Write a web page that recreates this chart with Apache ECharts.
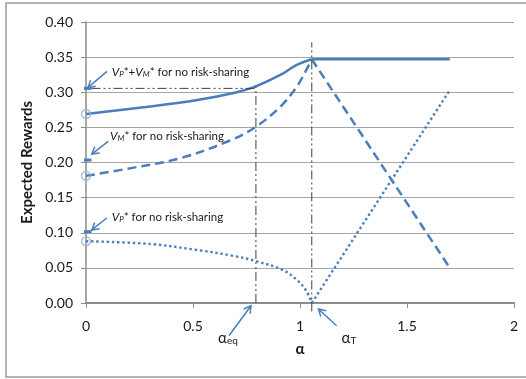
<!DOCTYPE html>
<html>
<head>
<meta charset="utf-8">
<script src="https://cdn.jsdelivr.net/npm/echarts@6/dist/echarts.min.js"></script>
<style>
  html, body { margin: 0; padding: 0; background: #ffffff; }
  #chart { width: 526px; height: 379px; }
</style>
</head>
<body>
<div id="chart"></div>
<script>
// Expected rewards against the sharing parameter α.
// Curved part of each series runs from α = 0 up to the threshold α_T.
const totalAlpha = [0, 0.28, 0.52, 0.69, 0.79, 0.91, 0.985, 1.055];
const totalValue = [0.269, 0.279, 0.289, 0.299, 0.308, 0.325, 0.339, 0.347];

const mgrAlpha = [0, 0.21, 0.44, 0.67, 0.79, 0.91, 0.985, 1.03, 1.055];
const mgrValue = [0.181, 0.192, 0.206, 0.231, 0.250, 0.280, 0.308, 0.332, 0.347];

const prnAlpha = [0, 0.30, 0.53, 0.69, 0.79, 0.92, 0.985, 1.03, 1.055];
const prnValue = [0.088, 0.084, 0.075, 0.067, 0.060, 0.047, 0.033, 0.017, 0.0];

// Straight part beyond α_T
const tailAlpha = [1.055, 1.70];
const totalTail = [0.347, 0.347];
const mgrTail = [0.347, 0.05];
const prnTail = [0.0, 0.303];

// Reference levels without risk-sharing and the two marked α values
const noShareTotal = 0.3055;
const noShareMgr = 0.2035;
const noShareP = 0.1015;
const alphaEq = 0.794;
const alphaT = 1.055;
const totalAtEq = 0.308;

const yTicks = [0, 0.05, 0.10, 0.15, 0.20, 0.25, 0.30, 0.35, 0.40];
const xTicks = [0, 0.5, 1, 1.5, 2];

const BLUE = '#4a7ebb';
const LIGHT = '#95b3d7';
const GUIDE = '#3f3f3f';
const FONT = 'Lato, "Liberation Sans", sans-serif';

const pairs = (xs, ys) => xs.map((x, i) => [x, ys[i]]);

const chart = echarts.init(document.getElementById('chart'), null, { renderer: 'canvas' });

function lineSeries(data, style, smooth) {
  return {
    type: 'line', data: data, smooth: smooth ? 0.35 : false,
    showSymbol: false, symbol: 'none', silent: true, clip: false,
    lineStyle: style, z: 3, animation: false
  };
}

const solid = { color: BLUE, width: 2.5 };
const dashed = { color: BLUE, width: 2.5, type: [9, 5] };
const dotted = { color: BLUE, width: 2.4, type: [2.4, 2.8] };
const guide = { color: GUIDE, width: 1, type: [9, 3, 2, 3, 2, 3] };
const mark = { color: BLUE, width: 3 };

const markHalf = 0.026;

chart.setOption({
  animation: false,
  grid: { left: 86, right: 12, top: 22, bottom: 76 },
  xAxis: {
    type: 'value', min: xTicks[0], max: xTicks[xTicks.length - 1], interval: 0.5,
    name: 'α', nameLocation: 'middle', nameGap: 39,
    nameTextStyle: { fontFamily: FONT, fontSize: 15, fontWeight: 'bold', color: '#1a1a1a' },
    axisLine: { lineStyle: { color: '#8c8c8c', width: 2 } },
    axisTick: { show: true, length: 5, lineStyle: { color: '#8c8c8c', width: 1 } },
    axisLabel: { fontFamily: FONT, fontSize: 14, color: '#1a1a1a', margin: 16,
                 formatter: v => String(v) },
    splitLine: { show: false }
  },
  yAxis: {
    type: 'value', min: yTicks[0], max: yTicks[yTicks.length - 1], interval: 0.05,
    name: 'Expected Rewards', nameLocation: 'middle', nameGap: 50,
    nameTextStyle: { fontFamily: FONT, fontSize: 15, fontWeight: 'bold', color: '#1a1a1a' },
    axisLine: { show: true, lineStyle: { color: '#8c8c8c', width: 1.5 } },
    axisTick: { show: true, length: 5, lineStyle: { color: '#8c8c8c', width: 1 } },
    axisLabel: { fontFamily: FONT, fontSize: 14, color: '#1a1a1a', margin: 13,
                 formatter: v => v.toFixed(2) },
    splitLine: { show: true, lineStyle: { color: '#a6a6a6', width: 1 } }
  },
  series: [
    lineSeries(pairs(totalAlpha, totalValue), solid, true),
    lineSeries(pairs(tailAlpha, totalTail), solid, false),
    lineSeries(pairs(mgrAlpha, mgrValue), dashed, true),
    lineSeries(pairs(tailAlpha, mgrTail), dashed, false),
    lineSeries(pairs(prnAlpha, prnValue), dotted, true),
    lineSeries(pairs(tailAlpha, prnTail), dotted, false),
    // guide lines at α_eq and α_T
    lineSeries([[markHalf, noShareTotal], [alphaEq, noShareTotal]], guide, false),
    lineSeries([[alphaEq, 0], [alphaEq, totalAtEq]], guide, false),
    lineSeries([[alphaT, -0.012], [alphaT, 0.371]], guide, false),
    // short bars on the value axis for the no-risk-sharing levels
    lineSeries([[-markHalf, noShareTotal], [markHalf, noShareTotal]], mark, false),
    lineSeries([[-markHalf, noShareMgr], [markHalf, noShareMgr]], mark, false),
    lineSeries([[-markHalf, noShareP], [markHalf, noShareP]], mark, false),
    {
      type: 'scatter', silent: true, clip: false, z: 4, animation: false,
      symbol: 'circle', symbolSize: 9,
      itemStyle: { color: 'rgba(255,255,255,0)', borderColor: LIGHT, borderWidth: 1.5 },
      data: [[totalAlpha[0], totalValue[0]], [mgrAlpha[0], mgrValue[0]], [prnAlpha[0], prnValue[0]]]
    }
  ]
});

// Annotation arrows and labels, placed in data coordinates
const arrows = [
  { from: [0.098, 0.3297], to: [0.009, 0.3065] },
  { from: [0.104, 0.230], to: [0.027, 0.212] },
  { from: [0.097, 0.121], to: [0.027, 0.104] },
  { from: [0.668, -0.0466], to: [0.771, -0.0039] },
  { from: [1.171, -0.0323], to: [1.086, -0.0085] }
];

const richBase = {
  v: { fontFamily: FONT, fontSize: 12, fontStyle: 'italic', fill: '#1a1a1a' },
  s: { fontFamily: FONT, fontSize: 8, fontStyle: 'italic', fill: '#1a1a1a',
       verticalAlign: 'bottom', lineHeight: 9 },
  t: { fontFamily: FONT, fontSize: 11.5, fill: '#1a1a1a' },
  a: { fontFamily: FONT, fontSize: 15, fill: '#1a1a1a' },
  e: { fontFamily: FONT, fontSize: 10, fill: '#1a1a1a', verticalAlign: 'bottom', lineHeight: 10 }
};

const labels = [
  { at: [0.12, 0.328], text: '{v|V}{s|P}{t|*+}{v|V}{s|M}{t|* for no risk-sharing}' },
  { at: [0.112, 0.237], text: '{v|V}{s|M}{t|* for no risk-sharing}' },
  { at: [0.12, 0.1224], text: '{v|V}{s|P}{t|* for no risk-sharing}' },
  { at: [0.617, -0.0496], text: '{a|α}{e|eq}' },
  { at: [1.194, -0.0496], text: '{a|α}{e|T}' }
];

const toPx = p => chart.convertToPixel({ gridIndex: 0 }, p);
const graphic = [];

graphic.push({
  type: 'rect', silent: true, z: 0,
  shape: { x: 6, y: 3, width: 560, height: 374 },
  style: { fill: 'none', stroke: '#9a9a9a', lineWidth: 1.5 }
});

arrows.forEach(a => {
  const s = toPx(a.from), t = toPx(a.to);
  const dx = t[0] - s[0], dy = t[1] - s[1];
  const len = Math.hypot(dx, dy);
  const ux = dx / len, uy = dy / len;
  const head = 8, ang = 30 * Math.PI / 180;
  const rot = (x, y, th) => [x * Math.cos(th) - y * Math.sin(th), x * Math.sin(th) + y * Math.cos(th)];
  const r1 = rot(-ux, -uy, ang), r2 = rot(-ux, -uy, -ang);
  graphic.push({
    type: 'line', silent: true, z: 10,
    shape: { x1: s[0], y1: s[1], x2: t[0], y2: t[1] },
    style: { stroke: BLUE, lineWidth: 1.5 }
  });
  graphic.push({
    type: 'polyline', silent: true, z: 10,
    shape: { points: [[t[0] + r1[0] * head, t[1] + r1[1] * head], t, [t[0] + r2[0] * head, t[1] + r2[1] * head]] },
    style: { stroke: BLUE, lineWidth: 1.5, fill: 'none' }
  });
});

labels.forEach(l => {
  const p = toPx(l.at);
  graphic.push({
    type: 'text', silent: true, z: 10, x: p[0], y: p[1],
    style: { text: l.text, rich: richBase, align: 'left', verticalAlign: 'middle',
             fontFamily: FONT, fontSize: 12, fill: '#1a1a1a' }
  });
});

chart.setOption({ graphic: graphic });
</script>
</body>
</html>
